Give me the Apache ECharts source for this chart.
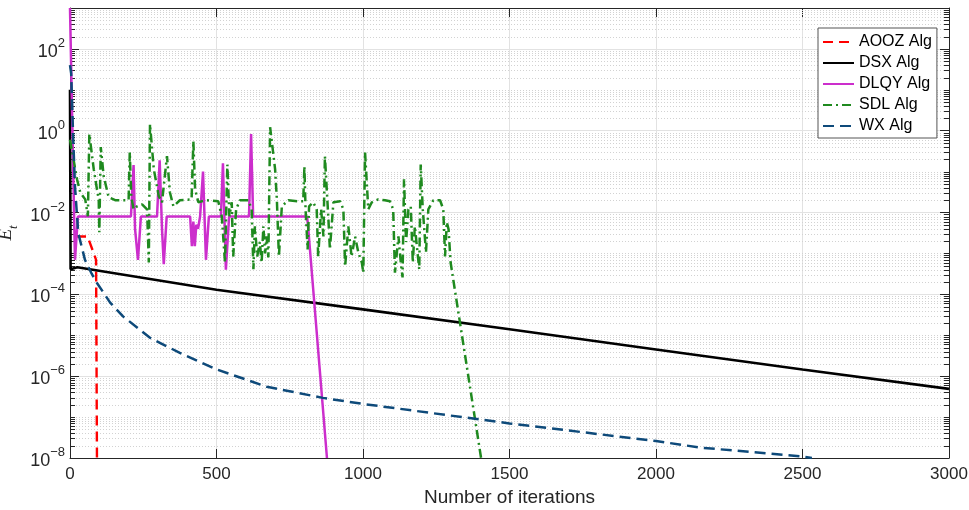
<!DOCTYPE html>
<html>
<head>
<meta charset="utf-8">
<script src="https://cdn.jsdelivr.net/npm/echarts@6/dist/echarts.min.js"></script>
<style>
  html, body { margin: 0; padding: 0; background: #fff; }
  #main { width: 969px; height: 510px; }
</style>
</head>
<body>
<div id="main"></div>
<script>
// [iteration, E_t]
var aoozData = [[0, 2.6e-3], [60, 2.6e-3], [89, 7e-4], [92, 1e-8]]
var dsxData = [[0, 10], [2, 4.1e-4], [25, 4.6e-4], [500, 1.3e-4], [1000, 4.3e-5], [1500, 1.4e-5],
  [2000, 4.5e-6], [2500, 1.45e-6], [3000, 4.9e-7]]
var dlqyData = [[0, 1e3], [17, 7e-4], [27, 8e-3], [208, 8e-3], [217, 0.145], [222, 4e-3], [232, 7e-4],
  [242, 8e-3], [297, 8e-3], [306, 0.19], [314, 4e-3], [320, 5.5e-4], [330, 8e-3], [410, 8e-3],
  [416, 1.5e-3], [421, 6e-3], [426, 1.5e-3], [431, 5e-3], [437, 4e-3], [444, 8e-3], [454, 0.1],
  [464, 7e-4], [474, 8e-3], [515, 8e-3], [522, 0.16], [532, 4e-4], [543, 8e-3], [611, 8e-3],
  [618, 0.83], [625, 8e-3], [809, 8e-3], [812, 5.1e-3], [877, 1e-8]]
var sdlData = [[0, 0.6], [7, 0.32], [24, 0.065], [35, 0.031], [52, 0.021], [61, 0.0081], [66, 0.83],
  [81, 0.115], [92, 0.037], [98, 0.021], [100, 0.0033], [105, 0.4], [115, 0.077], [132, 0.0236],
  [154, 0.02], [200, 0.02], [204, 0.3], [209, 0.025], [217, 0.012], [229, 0.0142], [246, 0.0159],
  [263, 0.012], [269, 0.0006], [273, 1.45], [286, 0.115], [303, 0.025], [314, 0.0178], [331, 0.24],
  [341, 0.031], [353, 0.0142], [375, 0.02], [415, 0.021], [421, 0.56], [427, 0.037], [438, 0.0178],
  [449, 0.0188], [467, 0.02], [506, 0.0188], [518, 0.0081], [529, 0.0006], [537, 0.15], [544, 0.0081],
  [552, 0.0178], [557, 0.00084], [567, 0.012], [580, 0.02], [609, 0.02], [620, 0.012], [626, 0.00041],
  [631, 0.0046], [639, 0.00084], [648, 0.0019], [654, 0.0006], [660, 0.0046], [666, 0.001],
  [671, 0.0026], [677, 0.0008], [683, 1.22], [700, 0.115], [706, 0.021], [713, 0.00084], [723, 0.0142],
  [745, 0.02], [779, 0.0188], [796, 0.0188], [800, 0.135], [804, 0.012], [811, 0.00125], [816, 0.0142],
  [830, 0.0178], [842, 0.012], [847, 0.00084], [857, 0.012], [865, 0.0026], [870, 0.24], [882, 0.0068],
  [887, 0.00125], [899, 0.0178], [922, 0.0188], [933, 0.012], [939, 0.00048], [950, 0.0046],
  [961, 0.00084], [973, 0.0026], [984, 0.00106], [996, 0.0006], [1001, 0.00034], [1007, 0.3],
  [1018, 0.012], [1030, 0.0178], [1052, 0.021], [1075, 0.02], [1092, 0.0188], [1103, 0.012],
  [1109, 0.00034], [1121, 0.0026], [1129, 0.0006], [1135, 0.00026], [1140, 0.065], [1147, 0.0019],
  [1155, 0.012], [1163, 0.0142], [1170, 0.0006], [1177, 0.0046], [1185, 0.00125], [1192, 0.00041],
  [1197, 0.15], [1204, 0.012], [1215, 0.00106], [1223, 0.012], [1240, 0.02], [1263, 0.02],
  [1274, 0.012], [1280, 0.00084], [1286, 0.0058], [1292, 0.0039], [1299, 0.0006], [1403, 1e-8]]
var wxData = [[0, 40], [4, 25], [11, 0.63], [17, 0.044], [28, 3.2e-3], [51, 7e-4], [74, 3.2e-4],
  [92, 1.9e-4], [137, 6.3e-5], [181, 2.9e-5], [273, 8.7e-6], [375, 3.7e-6], [502, 1.45e-6],
  [672, 5.5e-7], [863, 2.95e-7], [1000, 2.1e-7], [1500, 7e-8], [2000, 2.6e-8], [2150, 1.8e-8],
  [2491, 1.1e-8], [2532, 1e-8]]

var seriesNames = ['AOOZ Alg', 'DSX Alg', 'DLQY Alg', 'SDL Alg', 'WX Alg']
// y tick labels are 10^e for these exponents
var yLabelExps = [-8, -6, -4, -2, 0, 2]
var minorMantissas = [2, 3, 4, 5, 6, 7, 8, 9]
var minorDecades = [-8, -7, -6, -5, -4, -3, -2, -1, 0, 1, 2]
var oddDecades = [-7, -5, -3, -1, 1]

var minorValues = []
minorDecades.forEach(function (d) {
  minorMantissas.forEach(function (m) {
    minorValues.push([0, m * Math.pow(10, d)])
  })
})
oddDecades.forEach(function (d) {
  minorValues.push([0, Math.pow(10, d)])
})

var txt = '#262626'
var font = 'Liberation Sans, Arial, Helvetica, sans-serif'
var serif = 'Liberation Serif, DejaVu Serif, serif'

var myChart = echarts.init(document.getElementById('main'), null, { renderer: 'canvas' })

var expAxis = function (pos, withLabels) {
  return {
    type: 'value',
    position: pos,
    min: -8,
    max: 3,
    interval: 2,
    axisLine: { show: true, onZero: false, lineStyle: { color: txt, width: 1 } },
    axisTick: { show: true, inside: true, length: 9, lineStyle: { color: txt } },
    axisLabel: withLabels ? {
      margin: 5,
      formatter: function (e) {
        if (yLabelExps.indexOf(e) < 0) return ''
        return '{b|10}{s|' + String(e).replace('-', '\u2212') + '}'
      },
      rich: {
        b: { fontSize: 18, color: txt, fontFamily: font, lineHeight: 24, verticalAlign: 'bottom' },
        s: { fontSize: 13, color: txt, fontFamily: font, lineHeight: 13, verticalAlign: 'top' },
      },
    } : { show: false },
    splitLine: { show: withLabels, lineStyle: { color: '#e2e2e2', width: 1 } },
  }
}

var leftAxis = expAxis('left', true)
leftAxis.name = '{e|E}{t|t}'
leftAxis.nameLocation = 'middle'
leftAxis.nameGap = 50
leftAxis.nameMoveOverlap = false
leftAxis.nameTextStyle = {
  rich: {
    e: { fontSize: 19, fontStyle: 'italic', fontFamily: serif, color: txt, lineHeight: 24, verticalAlign: 'top' },
    t: { fontSize: 13, fontStyle: 'italic', fontFamily: serif, color: txt, lineHeight: 15, verticalAlign: 'bottom' },
  },
}

var legendItems = seriesNames.map(function (n) {
  return n === 'AOOZ Alg' ? { name: n, lineStyle: { dashOffset: 0 } } : { name: n }
})

var option = {
  animation: false,
  backgroundColor: '#fff',
  textStyle: { fontFamily: font },
  grid: { left: 70, right: 20, top: 8, bottom: 52, containLabel: false, outerBoundsMode: 'none' },
  legend: {
    data: legendItems,
    orient: 'vertical',
    left: 818,
    top: 28,
    padding: [6, 5, 4, 4],
    itemWidth: 31,
    itemHeight: 14,
    itemGap: 5,
    borderColor: '#555',
    borderWidth: 1,
    backgroundColor: '#fff',
    itemStyle: { opacity: 0 },
    textStyle: { color: '#000', fontSize: 16, fontFamily: font },
  },
  xAxis: [
    {
      type: 'value',
      position: 'bottom',
      min: 0,
      max: 3000,
      interval: 500,
      name: 'Number of iterations',
      nameLocation: 'middle',
      nameGap: 30,
      nameTextStyle: { color: txt, fontSize: 19, fontFamily: font },
      axisLine: { show: true, onZero: false, lineStyle: { color: txt, width: 1 } },
      axisTick: { show: true, inside: true, length: 9, lineStyle: { color: txt } },
      axisLabel: { color: txt, fontSize: 17, margin: 8, formatter: function (v) { return String(v) } },
      splitLine: { show: true, lineStyle: { color: '#e2e2e2', width: 1 } },
    },
    {
      type: 'value',
      position: 'top',
      min: 0,
      max: 3000,
      interval: 500,
      axisLine: { show: true, onZero: false, lineStyle: { color: txt, width: 1 } },
      axisTick: { show: true, inside: true, length: 9, lineStyle: { color: txt } },
      axisLabel: { show: false },
      splitLine: { show: false },
    },
  ],
  yAxis: [
    {
      // data axis
      type: 'log',
      logBase: 10,
      min: 1e-8,
      max: 1e3,
      axisLine: { show: false, onZero: false },
      axisTick: { show: false },
      axisLabel: { show: false },
      splitLine: { show: false },
    },
    leftAxis,
    expAxis('right', false),
  ],
  series: [
    {
      // minor grid + minor ticks
      name: 'minor',
      type: 'custom',
      silent: true,
      z: 1,
      xAxisIndex: 0,
      yAxisIndex: 0,
      encode: { x: 0, y: 1 },
      data: minorValues,
      renderItem: function (params, api) {
        var cs = params.coordSys
        var y = Math.round(api.coord([0, api.value(1)])[1]) + 0.5
        return {
          type: 'group',
          children: [
            { type: 'line', shape: { x1: cs.x, y1: y, x2: cs.x + cs.width, y2: y },
              style: { stroke: '#d2d2d2', lineWidth: 1, lineDash: [1, 2] } },
            { type: 'line', shape: { x1: cs.x, y1: y, x2: cs.x + 5, y2: y },
              style: { stroke: txt, lineWidth: 1 } },
            { type: 'line', shape: { x1: cs.x + cs.width - 5, y1: y, x2: cs.x + cs.width, y2: y },
              style: { stroke: txt, lineWidth: 1 } },
          ],
        }
      },
    },
    {
      name: 'AOOZ Alg',
      type: 'line',
      symbol: 'none',
      data: aoozData,
      lineStyle: { color: '#ff0000', width: 2.4, type: [10, 6], dashOffset: 10 },
      itemStyle: { color: '#ff0000' },
    },
    {
      name: 'DSX Alg',
      type: 'line',
      symbol: 'none',
      data: dsxData,
      lineStyle: { color: '#000000', width: 2.6 },
      itemStyle: { color: '#000000' },
    },
    {
      name: 'DLQY Alg',
      type: 'line',
      symbol: 'none',
      data: dlqyData,
      lineStyle: { color: '#cc2ecc', width: 2.5 },
      itemStyle: { color: '#cc2ecc' },
    },
    {
      name: 'SDL Alg',
      type: 'line',
      symbol: 'none',
      data: sdlData,
      lineStyle: { color: '#1f8a1f', width: 2.5, type: [9, 4, 2, 4] },
      itemStyle: { color: '#1f8a1f' },
    },
    {
      name: 'WX Alg',
      type: 'line',
      symbol: 'none',
      data: wxData,
      lineStyle: { color: '#0e4a7a', width: 2.5, type: [11, 6] },
      itemStyle: { color: '#0e4a7a' },
    },
  ],
}

option && myChart.setOption(option)
</script>
</body>
</html>
